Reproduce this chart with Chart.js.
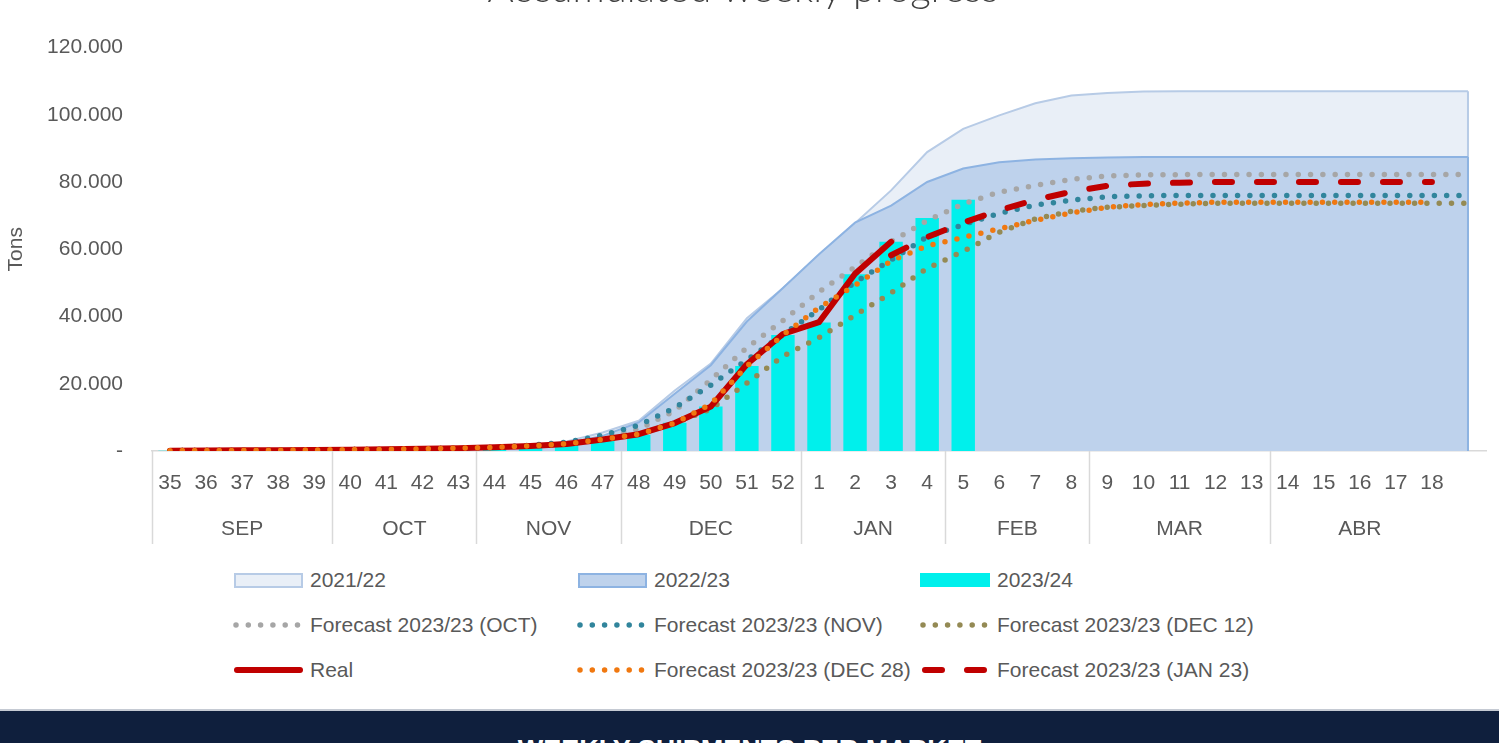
<!DOCTYPE html>
<html>
<head>
<meta charset="utf-8">
<script src="https://cdn.jsdelivr.net/npm/chart.js@4.4.1/dist/chart.umd.min.js"></script>
<style>
  body { margin: 0; width: 1508px; height: 743px; overflow: hidden; background: #fff; position: relative; font-family: "Liberation Sans", Arial, sans-serif; }
  #wrap { position: absolute; left: 0; top: -40px; width: 1508px; height: 584px; }
  .item { position: absolute; height: 26px; display: flex; align-items: center; white-space: nowrap; font-size: 21px; color: #595959; }
  .item canvas { margin-right: 7px; }
  #band { position: absolute; left: 0; top: 709px; width: 1499px; height: 60px; background: #0f1f3d; border-top: 2px solid #c5cad3; box-sizing: border-box; }
  #band div { text-align: center; color: #fff; font-weight: bold; font-size: 27px; line-height: 27px; padding-top: 26px; }
</style>
</head>
<body>
<div id="wrap"><canvas id="myChart"></canvas></div>
<div id="legend"></div>
<div id="band"><div>WEEKLY SHIPMENTS PER MARKET</div></div>
<script>
// categories
const weekLabels = ['35','36','37','38','39','40','41','42','43','44','45','46','47','48','49','50','51','52',
  '1','2','3','4','5','6','7','8','9','10','11','12','13','14','15','16','17','18',''];
const monthNames = ['SEP','OCT','NOV','DEC','JAN','FEB','MAR','ABR'];
const monthWeeks = [5, 4, 4, 5, 4, 4, 5, 5];
const yTickValues = [0, 20000, 40000, 60000, 80000, 100000, 120000];
const yTickLabels = ['-', '20.000', '40.000', '60.000', '80.000', '100.000', '120.000'];

// series (tons, accumulated)
const season2122 = [0, 0, 50, 100, 150, 200, 300, 400, 500,
  900, 1500, 2800, 5500, 9000, 18000, 26000, 39500, 48400,
  58200, 67700, 77500, 88900, 95800, 99800, 103400, 105700, 106500,
  106900, 107000, 107000, 107000, 107000, 107000, 107000, 107000, 107000, 107000];
const season2223 = [0, 0, 50, 100, 150, 200, 300, 400, 500,
  800, 1300, 2300, 4500, 8500, 17000, 25500, 38500, 48500,
  58500, 67900, 73000, 80000, 84000, 85900, 86700, 87100, 87300,
  87400, 87400, 87400, 87400, 87400, 87400, 87400, 87400, 87400, 87400];
const season2324 = [100, 150, 200, 250, 300, 400, 500, 650, 850,
  1100, 1500, 2100, 3300, 4800, 8400, 13200, 25300, 34500,
  38200, 52600, 62200, 69300, 74700];
const forecastOct = [100, 150, 200, 250, 300, 400, 500, 650, 850,
  1100, 1600, 2300, 3700, 6500, 12000, 21200, 30700, 38800,
  47300, 54700, 62300, 68500, 73500, 77000, 79000, 80800, 81800,
  82100, 82200, 82200, 82200, 82200, 82200, 82200, 82200, 82200, 82200];
const forecastNov = [100, 150, 200, 250, 300, 400, 500, 650, 850,
  1100, 1700, 2600, 4700, 7600, 12900, 19600, 27100, 34600,
  42000, 50200, 56800, 63700, 67300, 70700, 73100, 74600, 75600,
  75900, 76000, 76000, 76000, 76000, 76000, 76000, 76000, 76000, 76000];
const forecastDec12 = [100, 150, 200, 250, 300, 400, 500, 650, 850,
  1100, 1500, 2100, 3400, 5000, 8300, 12500, 20200, 28200,
  33700, 40400, 47000, 54300, 59400, 65100, 69000, 71300, 72500,
  73000, 73400, 73700, 73700, 73700, 73700, 73700, 73700, 73700, 73700];
const real = [100, 150, 200, 250, 300, 400, 500, 650, 850,
  1100, 1500, 2100, 3400, 5000, 8300, 13200, 25800, 34800,
  38300, 52700, 62200];
const forecastDec28 = [100, 150, 200, 250, 300, 400, 500, 650, 850,
  1100, 1500, 2100, 3400, 5000, 8300, 14000, 25200, 34500,
  42600, 49300, 56500, 61000, 63500, 66100, 68600, 70800, 72500,
  73300, 73700, 74000, 74000, 74000, 74000, 74000, 74000, 74000];
const forecastJan23 = [null, null, null, null, null, null, null, null, null,
  null, null, null, null, null, null, null, null, null,
  null, null, 58200, 63600, 67900, 71600, 74700, 77100, 78900,
  79500, 79800, 80000, 80000, 80000, 80000, 80000, 80000, 80000];

const tickFont = { family: 'Liberation Sans', size: 21 };
const grey = '#595959';

function dotted(label, data, color, order) {
  return { type: 'line', label, data, borderColor: color, backgroundColor: color,
    borderWidth: 5.5, borderDash: [0, 12.3], borderCapStyle: 'round', borderJoinStyle: 'round',
    pointRadius: 0, fill: false, tension: 0, order };
}

const data = {
  labels: weekLabels,
  datasets: [
    { type: 'line', label: '2021/22', data: season2122, borderColor: '#b7cbe6', backgroundColor: '#e9eff7',
      borderWidth: 2, fill: 'origin', pointRadius: 0, tension: 0, order: 9 },
    { type: 'line', label: '2022/23', data: season2223, borderColor: '#8db3e2', backgroundColor: '#bed2ec',
      borderWidth: 2, fill: 'origin', pointRadius: 0, tension: 0, order: 8 },
    { type: 'bar', label: '2023/24', data: season2324, backgroundColor: '#00f0ec',
      barPercentage: 0.65, categoryPercentage: 1, order: 7 },
    dotted('Forecast 2023/23 (OCT)', forecastOct, '#a6a6a6', 6),
    dotted('Forecast 2023/23 (NOV)', forecastNov, '#31859c', 5),
    dotted('Forecast 2023/23 (DEC 12)', forecastDec12, '#948a54', 4),
    { type: 'line', label: 'Real', data: real, borderColor: '#c00000', borderWidth: 6,
      borderCapStyle: 'round', borderJoinStyle: 'round', pointRadius: 0, fill: false, tension: 0, order: 3 },
    dotted('Forecast 2023/23 (DEC 28)', forecastDec28, '#f07810', 2),
    { type: 'line', label: 'Forecast 2023/23 (JAN 23)', data: forecastJan23, borderColor: '#c00000',
      borderWidth: 6, borderDash: [17, 25], borderCapStyle: 'round', pointRadius: 0, fill: false, tension: 0, order: 1 }
  ]
};

// closes the right side of the area series like the original
const areaEdges = {
  id: 'areaEdges',
  afterDatasetDraw(chart, args) {
    const ds = chart.data.datasets[args.index];
    if (!ds.fill) return;
    const pts = args.meta.data;
    const last = pts[pts.length - 1];
    const y0 = chart.scales.y.getPixelForValue(0);
    const ctx = chart.ctx;
    ctx.save();
    ctx.strokeStyle = ds.borderColor;
    ctx.lineWidth = ds.borderWidth;
    ctx.beginPath();
    ctx.moveTo(last.x, last.y);
    ctx.lineTo(last.x, y0);
    ctx.stroke();
    ctx.restore();
  }
};

// month separators across both label rows
const monthLines = {
  id: 'monthLines',
  afterDraw(chart) {
    const x2 = chart.scales.x2;
    const ctx = chart.ctx;
    ctx.save();
    ctx.strokeStyle = '#d9d9d9';
    ctx.lineWidth = 1.5;
    let start = 0;
    monthWeeks.forEach(n => {
      const px = Math.round(x2.getPixelForValue(start - 0.5)) + 0.5;
      ctx.beginPath();
      ctx.moveTo(px, chart.chartArea.bottom);
      ctx.lineTo(px, x2.bottom);
      ctx.stroke();
      start += n;
    });
    ctx.restore();
  }
};

const monthCenters = [];
let s = 0;
monthWeeks.forEach(n => { monthCenters.push(s + (n - 1) / 2); s += n; });

const config = {
  type: 'bar',
  data,
  plugins: [areaEdges, monthLines],
  options: {
    responsive: true,
    maintainAspectRatio: false,
    animation: false,
    devicePixelRatio: 1,
    layout: { padding: { left: 0, right: 22, top: 0, bottom: 0 } },
    plugins: {
      legend: { display: false },
      tooltip: { enabled: false },
      title: {
        display: true,
        text: 'Accumulated weekly progress',
        color: '#404040',
        font: { family: 'Lato', size: 40, weight: '300' },
        padding: { top: 5.5, bottom: 34 }
      }
    },
    scales: {
      x: {
        offset: true,
        grid: { display: false, drawTicks: false },
        border: { display: true, color: '#d9d9d9', width: 1.5 },
        ticks: { font: tickFont, color: grey, padding: 20, autoSkip: false, maxRotation: 0 },
        afterFit(scale) { scale.height = 45; }
      },
      x2: {
        type: 'linear',
        position: 'bottom',
        offset: false,
        bounds: 'data',
        min: -0.5,
        max: weekLabels.length - 0.5,
        grid: { display: false, drawTicks: false, offset: false },
        border: { display: false },
        ticks: { font: tickFont, color: grey, padding: 21, autoSkip: false, maxRotation: 0,
          callback: (v, i) => monthNames[i] },
        afterBuildTicks(scale) { scale.ticks = monthCenters.map(v => ({ value: v })); },
        afterFit(scale) { scale.height = 48; }
      },
      y: {
        min: 0,
        max: 120000,
        grid: { display: false, drawTicks: false },
        border: { display: false },
        ticks: { font: tickFont, color: grey, padding: 29, callback: (v, i) => yTickLabels[i] },
        afterBuildTicks(scale) { scale.ticks = yTickValues.map(v => ({ value: v })); },
        afterFit(scale) { scale.width = 152; },
        title: { display: true, text: 'Tons', color: grey, font: tickFont, padding: { top: 4, bottom: 0 } }
      }
    }
  }
};

const myChart = new Chart(document.getElementById('myChart'), config);

// legend, 3 columns like the original
const legendCols = [233, 577, 920];
const legendRows = [580, 625, 670];
const legendEl = document.getElementById('legend');
myChart.data.datasets.forEach((ds, i) => {
  const item = document.createElement('div');
  item.className = 'item';
  item.style.left = legendCols[i % 3] + 'px';
  item.style.top = (legendRows[Math.floor(i / 3)] - 13) + 'px';
  const c = document.createElement('canvas');
  c.width = 70; c.height = 20;
  const g = c.getContext('2d');
  if (ds.type === 'bar') {
    g.fillStyle = ds.backgroundColor;
    g.fillRect(0, 3, 70, 14);
  } else if (ds.fill) {
    g.fillStyle = ds.backgroundColor;
    g.fillRect(2, 4, 67, 13);
    g.strokeStyle = ds.borderColor;
    g.lineWidth = 2;
    g.strokeRect(2, 4, 67, 13);
  } else {
    g.strokeStyle = ds.borderColor;
    g.lineWidth = ds.borderWidth;
    g.lineCap = 'round';
    g.setLineDash(ds.borderDash || []);
    g.beginPath();
    if (ds.borderDash && ds.borderDash[0] === 0) { g.moveTo(3, 10); g.lineTo(66, 10); }
    else if (ds.borderDash) { g.moveTo(5, 10); g.lineTo(64, 10); }
    else { g.moveTo(4, 10); g.lineTo(67, 10); }
    g.stroke();
  }
  const t = document.createElement('span');
  t.textContent = ds.label;
  item.appendChild(c);
  item.appendChild(t);
  legendEl.appendChild(item);
});
</script>
</body>
</html>
